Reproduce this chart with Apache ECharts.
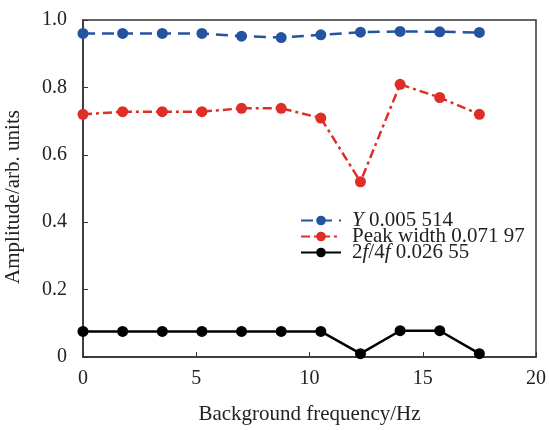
<!DOCTYPE html>
<html>
<head>
<meta charset="utf-8">
<script src="https://cdn.jsdelivr.net/npm/echarts@6/dist/echarts.min.js"></script>
<style>html,body{margin:0;padding:0;background:#fff}#c{width:549px;height:430px}</style>
</head>
<body>
<div id="c"></div>
<script>
// Background frequency (Hz) for each measurement
const freq = [0, 1.75, 3.5, 5.25, 7, 8.75, 10.5, 12.25, 14, 15.75, 17.5];
// Amplitudes of the three quantities
const yAmp = [0.960, 0.960, 0.960, 0.960, 0.952, 0.948, 0.956, 0.964, 0.966, 0.965, 0.963];
const peakWidth = [0.720, 0.728, 0.728, 0.728, 0.738, 0.738, 0.709, 0.520, 0.809, 0.770, 0.720];
const ratio2f4f = [0.076, 0.076, 0.076, 0.076, 0.076, 0.076, 0.076, 0.010, 0.078, 0.078, 0.010];
const seriesNames = ['Y 0.005 514', 'Peak width 0.071 97', '2f/4f 0.026 55'];
const xTicks = [0, 5, 10, 15, 20];
const yTicks = [0, 0.2, 0.4, 0.6, 0.8, 1.0];

const serif = "'Liberation Serif','Times New Roman',serif";
const pair = (xs, ys) => xs.map((x, i) => [x, ys[i]]);

const chart = echarts.init(document.getElementById('c'));
chart.setOption({
  animation: false,
  backgroundColor: '#fff',
  textStyle: { fontFamily: serif },
  grid: { left: 83, right: 12, top: 20, bottom: 70, show: true, borderColor: '#333', borderWidth: 1.5 },
  xAxis: {
    type: 'value', min: xTicks[0], max: xTicks[xTicks.length - 1], interval: 5,
    name: 'Background frequency/Hz', nameLocation: 'middle', nameGap: 47,
    nameTextStyle: { fontFamily: serif, fontSize: 21, color: '#222' },
    axisLine: { lineStyle: { color: '#333', width: 1.5 } },
    axisTick: { inside: true, length: 5, lineStyle: { color: '#333' } },
    axisLabel: { fontFamily: serif, fontSize: 20, color: '#222', margin: 12 },
    splitLine: { show: false }
  },
  yAxis: {
    type: 'value', min: yTicks[0], max: yTicks[yTicks.length - 1], interval: 0.2,
    axisLine: { show: true, lineStyle: { color: '#333', width: 1.5 } },
    axisTick: { show: true, inside: true, length: 5, lineStyle: { color: '#333' } },
    axisLabel: { fontFamily: serif, fontSize: 20, color: '#222', margin: 16,
      formatter: v => v === 0 ? '0' : v.toFixed(1) },
    splitLine: { show: false }
  },
  graphic: [{
    type: 'text', x: 13, y: 197, rotation: Math.PI / 2,
    style: { text: 'Amplitude/arb. units', font: '21px ' + serif, fill: '#222',
      align: 'center', verticalAlign: 'middle' }
  }],
  legend: {
    left: 295, top: 205, orient: 'vertical', itemWidth: 40, itemHeight: 12, itemGap: -5,
    data: seriesNames,
    textStyle: { fontFamily: serif, fontSize: 21, color: '#222', padding: [0, 0, 0, 6],
      rich: { i: { fontFamily: serif, fontSize: 21, fontStyle: 'italic', color: '#222' },
              n: { fontFamily: serif, fontSize: 21, color: '#222' } } },
    formatter: name => {
      if (name.startsWith('Y ')) return '{i|Y}{n|' + name.slice(1) + '}';
      if (name.startsWith('2f/4f')) return '{n|2}{i|f}{n|/4}{i|f}{n|' + name.slice(5) + '}';
      return '{n|' + name + '}';
    }
  },
  series: [
    { name: seriesNames[0], type: 'line', data: pair(freq, yAmp), symbol: 'circle', symbolSize: 11,
      itemStyle: { color: '#2453a0' }, lineStyle: { color: '#2453a0', width: 2.5, type: [12, 7] } },
    { name: seriesNames[1], type: 'line', data: pair(freq, peakWidth), symbol: 'circle', symbolSize: 11,
      itemStyle: { color: '#dd2e28' }, lineStyle: { color: '#dd2e28', width: 2.5, type: [9, 4, 3, 4] } },
    { name: seriesNames[2], type: 'line', data: pair(freq, ratio2f4f), symbol: 'circle', symbolSize: 11,
      itemStyle: { color: '#000' }, lineStyle: { color: '#000', width: 2.5 } }
  ]
});
</script>
</body>
</html>
